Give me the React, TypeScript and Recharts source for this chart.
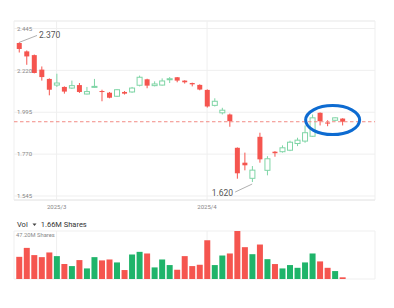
import { ComposedChart, Bar, XAxis, YAxis, CartesianGrid, ReferenceLine, ReferenceDot, Cell } from 'recharts';

// daily candles
const opens = [
    2.367, 2.322, 2.302, 2.224, 2.174, 2.141, 2.131, 2.125, 2.141, 2.093, 2.131,
    2.109, 2.100, 2.081, 2.104, 2.104, 2.140, 2.172, 2.138, 2.141, 2.170, 2.183,
    2.165, 2.152, 2.142, 2.115, 2.032, 1.992, 1.983, 1.804, 1.724, 1.640, 1.863,
    1.683, 1.783, 1.783, 1.791, 1.827, 1.840, 1.866, 1.992, 1.940, 1.952, 1.961,
];
const highs = [
    2.370, 2.327, 2.305, 2.241, 2.177, 2.202, 2.134, 2.165, 2.152, 2.131, 2.174,
    2.116, 2.104, 2.120, 2.109, 2.131, 2.192, 2.175, 2.161, 2.177, 2.184, 2.184,
    2.167, 2.154, 2.145, 2.118, 2.070, 2.019, 1.988, 1.806, 1.778, 1.706, 1.885,
    1.759, 1.786, 1.817, 1.842, 1.858, 1.924, 1.983, 1.994, 1.952, 1.968, 1.963,
];
const lows = [
    2.316, 2.250, 2.204, 2.165, 2.086, 2.131, 2.095, 2.120, 2.099, 2.091, 2.127,
    2.054, 2.070, 2.077, 2.090, 2.099, 2.134, 2.124, 2.134, 2.138, 2.152, 2.156,
    2.149, 2.134, 2.113, 2.020, 2.026, 1.983, 1.917, 1.638, 1.683, 1.620, 1.724,
    1.656, 1.756, 1.778, 1.786, 1.813, 1.831, 1.863, 1.924, 1.920, 1.947, 1.924,
];
const closes = [
    2.335, 2.295, 2.206, 2.184, 2.116, 2.152, 2.106, 2.138, 2.104, 2.106, 2.134,
    2.106, 2.073, 2.116, 2.095, 2.125, 2.183, 2.138, 2.147, 2.163, 2.175, 2.165,
    2.156, 2.145, 2.117, 2.026, 2.054, 2.006, 1.947, 1.667, 1.710, 1.684, 1.742,
    1.745, 1.775, 1.804, 1.834, 1.845, 1.885, 1.965, 1.947, 1.934, 1.965, 1.944,
];
// volume in millions of shares
const volumes = [
    21.8, 30.6, 23.5, 21.5, 26.1, 22.5, 14.7, 12.7, 18.6, 10.4, 21.5,
    18.3, 19.2, 16.3, 8.8, 24.1, 26.7, 25.1, 11.4, 19.2, 13.7, 9.1,
    22.5, 12.7, 14.0, 38.1, 13.7, 23.1, 25.1, 47.2, 31.3, 24.4, 33.9,
    19.5, 14.7, 10.4, 13.7, 11.0, 16.3, 25.1, 17.3, 11.0, 7.8, 1.66,
];

const priceTicks = [1.545, 1.77, 1.995, 2.22, 2.445];
const dateTicks = [5, 25];
const dateLabels = ['2025/3', '2025/4'];
const lastPrice = 1.944;
const volMax = 47.2;
const volNow = '1.66M';

const RED = '#f5554f';
const GREEN = '#7fd5a6';
const GREEN_VOL = '#1fb46a';
const GRID = '#efefef';
const FONT = 'Roboto, sans-serif';

const data = opens.map((o, i) => ({
    i,
    open: o,
    high: highs[i],
    low: lows[i],
    close: closes[i],
    range: [lows[i], highs[i]],
    vol: volumes[i],
}));

const xDomain = [-0.667, 47.333];
const yDomain = [1.5235, 2.4853];

const hiIdx = highs.indexOf(Math.max(...highs));
const loIdx = lows.indexOf(Math.min(...lows));

const Candle = (props: any) => {
    const { x, y, width, height, payload } = props;
    if (!payload) return null;
    const { open, close, high, low } = payload;
    const up = close >= open;
    const top = Math.min(y, y + height);
    const h = Math.abs(height);
    const span = high - low || 1e-6;
    const toY = (v: number) => top + ((high - v) / span) * h;
    const cx = x + width / 2;
    const bTop = toY(Math.max(open, close));
    const bBot = toY(Math.min(open, close));
    const color = up ? GREEN : RED;
    return (
        <g>
            <line x1={cx} x2={cx} y1={top} y2={top + h} stroke={color} strokeWidth={1} />
            <rect
                x={x + 0.5}
                y={bTop}
                width={width - 1}
                height={Math.max(bBot - bTop, 1)}
                fill={up ? '#fff' : color}
                stroke={up ? color : 'none'}
                strokeWidth={1}
            />
        </g>
    );
};

const HighLabel = ({ cx, cy }: any) => (
    <g>
        <line x1={cx} y1={cy} x2={cx + 18} y2={cy - 7} stroke="#9a9a9a" strokeWidth={0.8} />
        <text x={cx + 20} y={cy - 7} dy="0.35em" fontSize={8.5} fill="#555" fontFamily={FONT}>
            {highs[hiIdx].toFixed(3)}
        </text>
    </g>
);

const LowLabel = ({ cx, cy }: any) => (
    <g>
        <line x1={cx} y1={cy + 2} x2={cx - 17} y2={cy + 10} stroke="#9a9a9a" strokeWidth={0.8} />
        <text x={cx - 19} y={cy + 11} dy="0.35em" fontSize={8.5} fill="#555" fontFamily={FONT} textAnchor="end">
            {lows[loIdx].toFixed(3)}
        </text>
    </g>
);

const Highlight = ({ cx, cy }: any) => (
    <ellipse cx={cx} cy={cy} rx={27} ry={14.5} fill="none" stroke="#0d6bd1" strokeWidth={3} />
);

const VolTick = ({ x, y, payload }: any) => {
    if (payload.value !== volMax) return null;
    return (
        <text x={x} y={y + 3.6} dy="0.35em" fontSize={5.8} fill="#888" fontFamily={FONT}>
            {volMax.toFixed(2)}M Shares
        </text>
    );
};

export default function App() {
    return (
        <div style={{ position: 'fixed', left: 0, top: 0, width: 394, height: 308, background: '#fff', fontFamily: FONT }}>
            <div style={{ position: 'absolute', left: 0, top: 0 }}>
                <ComposedChart width={394} height={215} data={data} margin={{ top: 21, right: 19, left: 14, bottom: 0 }}>
                    <CartesianGrid stroke={GRID} />
                    <XAxis
                        type="number"
                        dataKey="i"
                        domain={xDomain}
                        allowDataOverflow
                        ticks={dateTicks}
                        tickFormatter={(v: number) => dateLabels[dateTicks.indexOf(v)]}
                        height={15}
                        tickLine={false}
                        tickSize={0}
                        tickMargin={5}
                        axisLine={{ stroke: '#e8e8e8' }}
                        tick={{ fontSize: 6, fill: '#888', fontFamily: FONT }}
                    />
                    <YAxis
                        type="number"
                        domain={yDomain}
                        allowDataOverflow
                        ticks={priceTicks}
                        width={1}
                        mirror
                        tickLine={false}
                        tickSize={0}
                        tickMargin={3}
                        axisLine={false}
                        tickFormatter={(v: number) => v.toFixed(3)}
                        tick={{ fontSize: 6, fill: '#888', fontFamily: FONT }}
                    />
                    <ReferenceLine y={yDomain[1]} stroke={GRID} />
                    <ReferenceLine y={lastPrice} stroke="#f28b85" strokeDasharray="3.5 2.5" />
                    <Bar dataKey="range" barSize={6} isAnimationActive={false} shape={(p: any) => <Candle {...p} />} />
                    <ReferenceDot x={hiIdx} y={highs[hiIdx]} r={0} shape={(p: any) => <HighLabel {...p} />} />
                    <ReferenceDot x={loIdx} y={lows[loIdx]} r={0} shape={(p: any) => <LowLabel {...p} />} />
                    <ReferenceDot x={41.7} y={1.953} r={0} shape={(p: any) => <Highlight {...p} />} />
                </ComposedChart>
            </div>
            <div style={{ position: 'absolute', left: 17, top: 220, fontSize: 7.5, lineHeight: '9px', color: '#333', whiteSpace: 'nowrap', display: 'flex', alignItems: 'center' }}>
                <span>Vol</span>
                <svg width={9} height={9} style={{ margin: '0 2px' }}>
                    <path d="M2.5 3.5 L6.5 3.5 L4.5 6 Z" fill="#444" />
                </svg>
                <span>{volNow} Shares</span>
            </div>
            <div style={{ position: 'absolute', left: 0, top: 215 }}>
                <ComposedChart width={394} height={93} data={data} margin={{ top: 16, right: 19, left: 14, bottom: 29 }}>
                    <CartesianGrid stroke={GRID} />
                    <XAxis type="number" dataKey="i" domain={xDomain} allowDataOverflow ticks={dateTicks} hide />
                    <YAxis
                        type="number"
                        domain={[0, volMax]}
                        ticks={[0, volMax]}
                        width={1}
                        mirror
                        tickLine={false}
                        tickSize={0}
                        tickMargin={2}
                        axisLine={false}
                        tick={(p: any) => <VolTick {...p} />}
                    />
                    <Bar dataKey="vol" barSize={6} isAnimationActive={false}>
                        {data.map((d) => (
                            <Cell key={d.i} fill={d.close >= d.open ? GREEN_VOL : RED} />
                        ))}
                    </Bar>
                </ComposedChart>
            </div>
        </div>
    );
}
